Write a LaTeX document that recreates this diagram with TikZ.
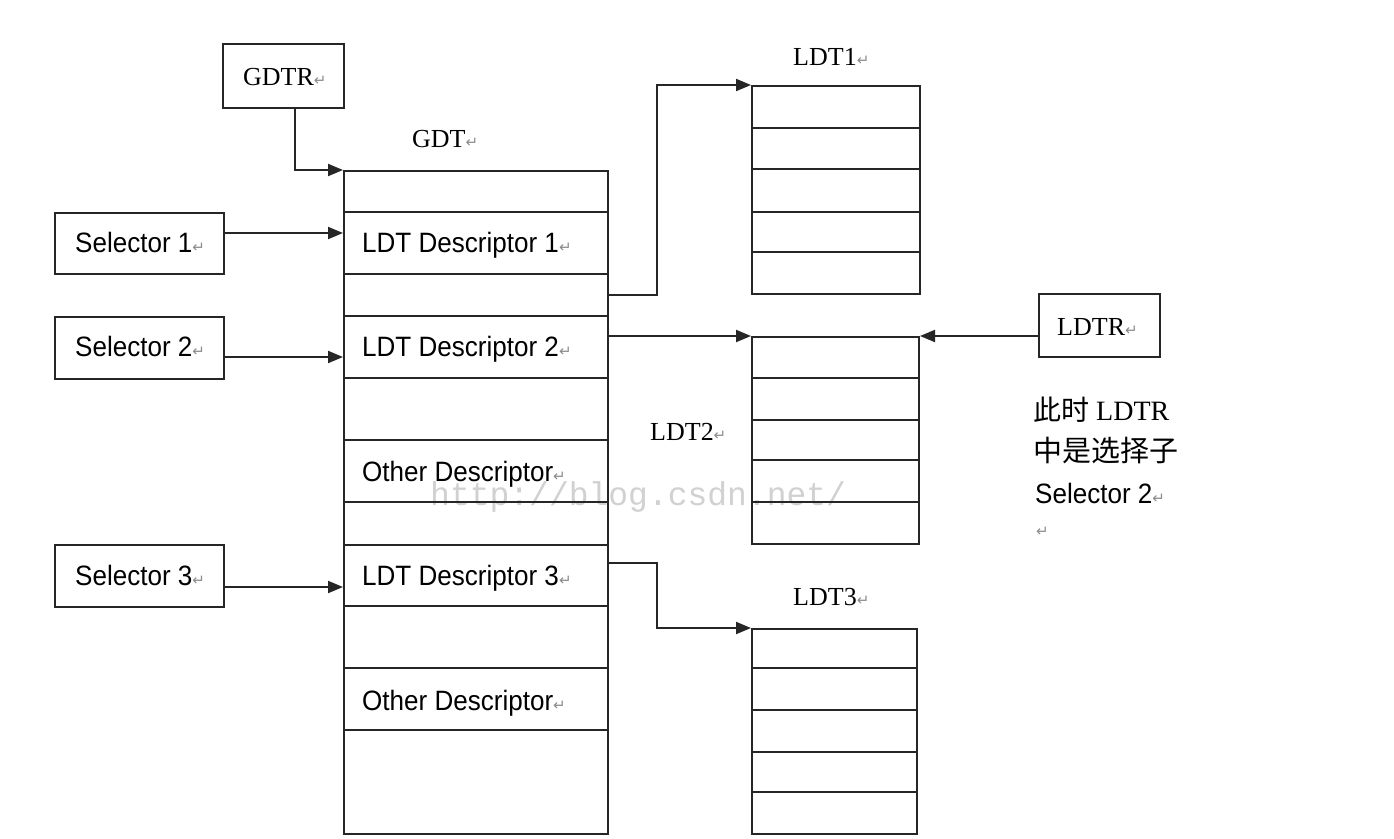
\documentclass[tikz,border=0pt]{standalone}
\usepackage{fontspec}
\usetikzlibrary{arrows.meta}
\setmainfont{Liberation Serif}
\newfontfamily\sansf[FakeStretch=0.93]{Liberation Sans}
\newfontfamily\cjk{Noto Sans CJK SC}
\newfontfamily\symf{DejaVu Sans}
\newfontfamily\monof{Liberation Mono}
\newcommand\pmark{{\symf\fontsize{15}{15}\selectfont\color{black!45}↵}}
\tikzset{
  ln/.style={line width=2pt, draw=black!85},
  boxn/.style={ln, rectangle, inner sep=0, anchor=north west},
  arr/.style={ln, -{Triangle[length=15pt,width=12pt]}},
  lbl/.style={inner sep=0, anchor=base west},
  serift/.style={lbl, font=\fontsize{26}{26}\selectfont},
  sanst/.style={lbl, font=\sansf\fontsize{28}{28}\selectfont},
}
\begin{document}
\begin{tikzpicture}[x=1pt,y=-1pt]
\useasboundingbox[fill=white] (0,0) rectangle (1394,838);

% watermark
\node[lbl, text=black!18, font=\monof\fontsize{33}{33}\selectfont] (wm) at (430,505) {http://blog.csdn.net/};

% boxes
\node[boxn, minimum width=121pt, minimum height=64pt] (gdtr) at (222,43) {};
\node[boxn, minimum width=169pt, minimum height=61pt] (sel1) at (54,212) {};
\node[boxn, minimum width=169pt, minimum height=62pt] (sel2) at (54,316) {};
\node[boxn, minimum width=169pt, minimum height=62pt] (sel3) at (54,544) {};
\node[boxn, minimum width=264pt, minimum height=663pt] (gdt) at (343,170) {};
\node[boxn, minimum width=168pt, minimum height=208pt] (ldt1) at (751,85) {};
\node[boxn, minimum width=167pt, minimum height=207pt] (ldt2) at (751,336) {};
\node[boxn, minimum width=165pt, minimum height=205pt] (ldt3) at (751,628) {};
\node[boxn, minimum width=121pt, minimum height=63pt] (ldtr) at (1038,293) {};

% table rows
\foreach \y in {212,274,316,378,440,502,545,606,668,730}
  \draw[ln] (343,\y) -- (607,\y);
\foreach \y in {128,169,212,252}
  \draw[ln] (751,\y) -- (919,\y);
\foreach \y in {378,420,460,502}
  \draw[ln] (751,\y) -- (918,\y);
\foreach \y in {668,710,752,792}
  \draw[ln] (751,\y) -- (916,\y);

% texts
\node[serift] (tgdtr) at (243,85) {GDTR\pmark};
\node[serift] (tgdt) at (412,147) {GDT\pmark};
\node[serift] (tldt1) at (793,65) {LDT1\pmark};
\node[serift] (tldt2) at (650,440) {LDT2\pmark};
\node[serift] (tldt3) at (793,605) {LDT3\pmark};
\node[serift] (tldtr) at (1057,335) {LDTR\pmark};
\node[sanst] (ts1) at (75,252) {Selector 1\pmark};
\node[sanst] (ts2) at (75,356) {Selector 2\pmark};
\node[sanst] (ts3) at (75,585) {Selector 3\pmark};
\node[sanst] (td1) at (362,252) {LDT Descriptor 1\pmark};
\node[sanst] (td2) at (362,356) {LDT Descriptor 2\pmark};
\node[sanst] (to1) at (362,481) {Other Descriptor\pmark};
\node[sanst] (td3) at (362,585) {LDT Descriptor 3\pmark};
\node[sanst] (to2) at (362,710) {Other Descriptor\pmark};
\node[lbl, font=\fontsize{28}{28}\selectfont] (n1) at (1033,420) {{\cjk 此时} LDTR};
\node[lbl, font=\cjk\fontsize{29}{29}\selectfont] (n2) at (1033,461) {中是选择子};
\node[sanst] (n3) at (1035,503) {Selector 2\pmark};
\node[lbl] (n4) at (1036,536) {\pmark};

% connectors
\draw[arr] ([xshift=11.5pt]gdtr.south) |- (gdt.north west);
\path ([yshift=10.5pt]sel1.east) coordinate (a1);
\draw[arr] (a1) -- (a1 -| gdt.west);
\path ([yshift=-9pt]sel2.east) coordinate (a2);
\draw[arr] (a2) -- (a2 -| gdt.west);
\path ([yshift=-11pt]sel3.east) coordinate (a3);
\draw[arr] (a3) -- (a3 -| gdt.west);
\path (gdt.east |- ldt1.south) coordinate (d1);
\draw[arr] (d1) -- ++(48,0) |- (ldt1.north west);
\draw[arr] (gdt.east |- ldt2.north west) -- (ldt2.north west);
\draw[arr] (ldtr.west |- ldt2.north east) -- (ldt2.north east);
\path (gdt.east |- 0,563) coordinate (d3);
\draw[arr] (d3) -- ++(48,0) |- (ldt3.north west);
\end{tikzpicture}
\end{document}
